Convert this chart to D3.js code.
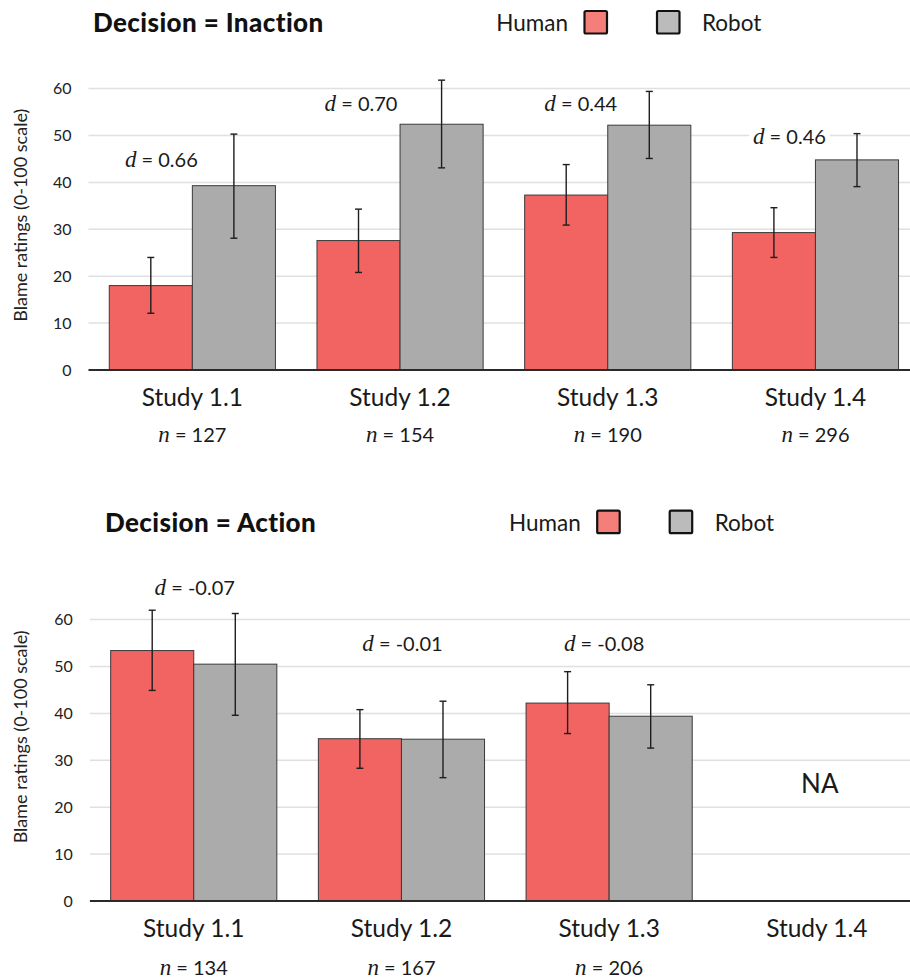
<!DOCTYPE html>
<html>
<head>
<meta charset="utf-8">
<script src="https://cdn.jsdelivr.net/npm/d3@7/dist/d3.min.js"></script>
<style>
  html, body { margin: 0; padding: 0; background: #fff; }
  svg { display: block; font-family: Lato, "Open Sans", sans-serif; }
</style>
</head>
<body>
<svg id="chart" width="910" height="979"></svg>
<script>
// ---- data ----
const studies = ["Study 1.1", "Study 1.2", "Study 1.3", "Study 1.4"];
const groups = ["Human", "Robot"];
const yTicks = [0, 10, 20, 30, 40, 50, 60];

// Decision = Inaction
const inactionHuman = [18.0, 27.6, 37.3, 29.3];
const inactionHumanLo = [12.1, 20.8, 30.9, 24.0];
const inactionHumanHi = [24.0, 34.3, 43.8, 34.6];
const inactionRobot = [39.3, 52.4, 52.2, 44.8];
const inactionRobotLo = [28.1, 43.1, 45.1, 39.1];
const inactionRobotHi = [50.3, 61.8, 59.4, 50.4];
const inactionN = [127, 154, 190, 296];
const inactionD = ["0.66", "0.70", "0.44", "0.46"];

// Decision = Action (Study 1.4 not run)
const actionHuman = [53.4, 34.6, 42.2, null];
const actionHumanLo = [44.9, 28.3, 35.7, null];
const actionHumanHi = [62.0, 40.8, 48.9, null];
const actionRobot = [50.5, 34.5, 39.4, null];
const actionRobotLo = [39.6, 26.3, 32.6, null];
const actionRobotHi = [61.3, 42.6, 46.1, null];
const actionN = [134, 167, 206, null];
const actionD = ["-0.07", "-0.01", "-0.08", null];

// ---- layout ----
const W = 910;
const colors = { Human: "#f16461", Robot: "#ababab" };
const swatch = { Human: "#f47f7a", Robot: "#bbbbbb" };

const panels = [
  {
    title: "Decision = Inaction",
    titleX: 93, titleY: 31.5,
    legendX: 568, legendY: 30.7, swatchY: 11,
    y0: 370, y60: 88.6, x0: 88.5,
    catY: 406, nY: 442,
    human: inactionHuman, humanLo: inactionHumanLo, humanHi: inactionHumanHi,
    robot: inactionRobot, robotLo: inactionRobotLo, robotHi: inactionRobotHi,
    n: inactionN, d: inactionD,
    dOffsetX: [-31, -39, -27, -26], dAt: [44.8, 56.7, 56.7, 49.7],
    yTitleAt: 33
  },
  {
    title: "Decision = Action",
    titleX: 105, titleY: 532.3,
    legendX: 580.7, legendY: 530.7, swatchY: 510.7,
    y0: 901, y60: 619.6, x0: 89.9,
    catY: 937, nY: 975,
    human: actionHuman, humanLo: actionHumanLo, humanHi: actionHumanHi,
    robot: actionRobot, robotLo: actionRobotLo, robotHi: actionRobotHi,
    n: actionN, d: actionD,
    dOffsetX: [1, 1, -5, 0], dAt: [66.7, 54.7, 54.8, 0],
    yTitleAt: 35,
    naText: "NA", naAt: 25
  }
];

const svg = d3.select("#chart");

panels.forEach(p => {
  const g = svg.append("g");

  const x = d3.scaleBand().domain(studies).range([p.x0, p.x0 + 4 * 207.7]).padding(0);
  const xs = d3.scaleBand().domain(groups).range([0, x.bandwidth()]).paddingInner(0).paddingOuter(0.25);
  const y = d3.scaleLinear().domain([0, 60]).range([p.y0, p.y60]);

  // gridlines
  g.append("g").selectAll("line").data(yTicks.filter(t => t > 0)).join("line")
    .attr("x1", p.x0).attr("x2", W)
    .attr("y1", d => y(d)).attr("y2", d => y(d))
    .attr("stroke", "#e0e0e0").attr("stroke-width", 1.5);

  // y axis tick labels
  const yAxis = d3.axisLeft(y).tickValues(yTicks).tickSize(0).tickPadding(17);
  const ya = g.append("g").attr("transform", `translate(${p.x0},0)`).call(yAxis)
    .attr("font-family", "Lato, sans-serif").attr("font-size", 16);
  ya.select(".domain").remove();
  ya.selectAll("text").attr("fill", "#222");

  // y axis title
  g.append("text")
    .attr("transform", `translate(27,${y(p.yTitleAt)}) rotate(-90)`)
    .attr("text-anchor", "middle")
    .attr("font-size", 18).attr("fill", "#222")
    .text("Blame ratings  (0-100 scale)");

  // bars
  const rows = [];
  studies.forEach((s, i) => {
    if (p.human[i] != null) rows.push({ s, k: "Human", v: p.human[i], lo: p.humanLo[i], hi: p.humanHi[i] });
    if (p.robot[i] != null) rows.push({ s, k: "Robot", v: p.robot[i], lo: p.robotLo[i], hi: p.robotHi[i] });
  });

  g.append("g").selectAll("rect").data(rows).join("rect")
    .attr("x", d => x(d.s) + xs(d.k))
    .attr("width", xs.bandwidth())
    .attr("y", d => y(d.v))
    .attr("height", d => y(0) - y(d.v))
    .attr("fill", d => colors[d.k])
    .attr("stroke", "#3a3a3a").attr("stroke-width", 1);

  // error bars
  const eb = g.append("g").attr("stroke", "#1e1e1e").attr("stroke-width", 1.4);
  rows.forEach(d => {
    const cx = x(d.s) + xs(d.k) + xs.bandwidth() / 2;
    eb.append("line").attr("x1", cx).attr("x2", cx).attr("y1", y(d.lo)).attr("y2", y(d.hi));
    eb.append("line").attr("x1", cx - 3.5).attr("x2", cx + 3.5).attr("y1", y(d.lo)).attr("y2", y(d.lo));
    eb.append("line").attr("x1", cx - 3.5).attr("x2", cx + 3.5).attr("y1", y(d.hi)).attr("y2", y(d.hi));
  });

  // baseline
  g.append("line").attr("x1", p.x0).attr("x2", W).attr("y1", y(0)).attr("y2", y(0))
    .attr("stroke", "#2a2a2a").attr("stroke-width", 2);

  // effect size labels
  studies.forEach((s, i) => {
    if (p.d[i] == null) return;
    const cx = x(s) + x.bandwidth() / 2 + p.dOffsetX[i];
    const lg = g.append("g");
    const t = lg.append("text")
      .attr("x", cx).attr("y", y(p.dAt[i]) + 7)
      .attr("text-anchor", "middle").attr("font-size", 20).attr("fill", "#1a1a1a");
    t.append("tspan").attr("font-family", "'Liberation Serif', 'DejaVu Serif', serif").attr("font-style", "italic").attr("font-size", 23).text("d");
    t.append("tspan").text(" = " + p.d[i]);
    const bb = t.node().getBBox();
    lg.insert("rect", "text").attr("x", bb.x - 4).attr("y", bb.y + 2).attr("width", bb.width + 8).attr("height", bb.height - 4).attr("fill", "#fff");
  });

  // NA marker
  if (p.naText) {
    g.append("text").attr("x", x("Study 1.4") + x.bandwidth() / 2 + 3).attr("y", y(p.naAt) + 9)
      .attr("text-anchor", "middle").attr("font-size", 26).attr("fill", "#1a1a1a").text(p.naText);
  }

  // category labels
  g.append("g").selectAll("text").data(studies).join("text")
    .attr("x", d => x(d) + x.bandwidth() / 2)
    .attr("y", p.catY)
    .attr("text-anchor", "middle").attr("font-size", 24.5).attr("fill", "#1a1a1a")
    .text(d => d);

  // sample sizes
  studies.forEach((s, i) => {
    if (p.n[i] == null) return;
    const t = g.append("text").attr("x", x(s) + x.bandwidth() / 2).attr("y", p.nY)
      .attr("text-anchor", "middle").attr("font-size", 20).attr("fill", "#1a1a1a");
    t.append("tspan").attr("font-family", "'Liberation Serif', 'DejaVu Serif', serif").attr("font-style", "italic").attr("font-size", 23).text("n");
    t.append("tspan").text(" = " + p.n[i]);
  });

  // title
  g.append("text").attr("x", p.titleX).attr("y", p.titleY)
    .attr("font-size", 26).attr("font-weight", 900).attr("letter-spacing", 0.4)
    .attr("fill", "#111").text(p.title);

  // legend
  const lg = g.append("g");
  lg.append("text").attr("x", p.legendX).attr("y", p.legendY).attr("text-anchor", "end")
    .attr("font-size", 22.5).attr("fill", "#1a1a1a").text("Human");
  lg.append("rect").attr("x", p.legendX + 16.5).attr("y", p.swatchY).attr("width", 22.5).attr("height", 22.5)
    .attr("rx", 1.5).attr("fill", swatch.Human).attr("stroke", "#111").attr("stroke-width", 2.2);
  lg.append("rect").attr("x", p.legendX + 89).attr("y", p.swatchY).attr("width", 22.5).attr("height", 22.5)
    .attr("rx", 1.5).attr("fill", swatch.Robot).attr("stroke", "#111").attr("stroke-width", 2.2);
  lg.append("text").attr("x", p.legendX + 134).attr("y", p.legendY)
    .attr("font-size", 22.5).attr("fill", "#1a1a1a").text("Robot");
});
</script>
</body>
</html>
